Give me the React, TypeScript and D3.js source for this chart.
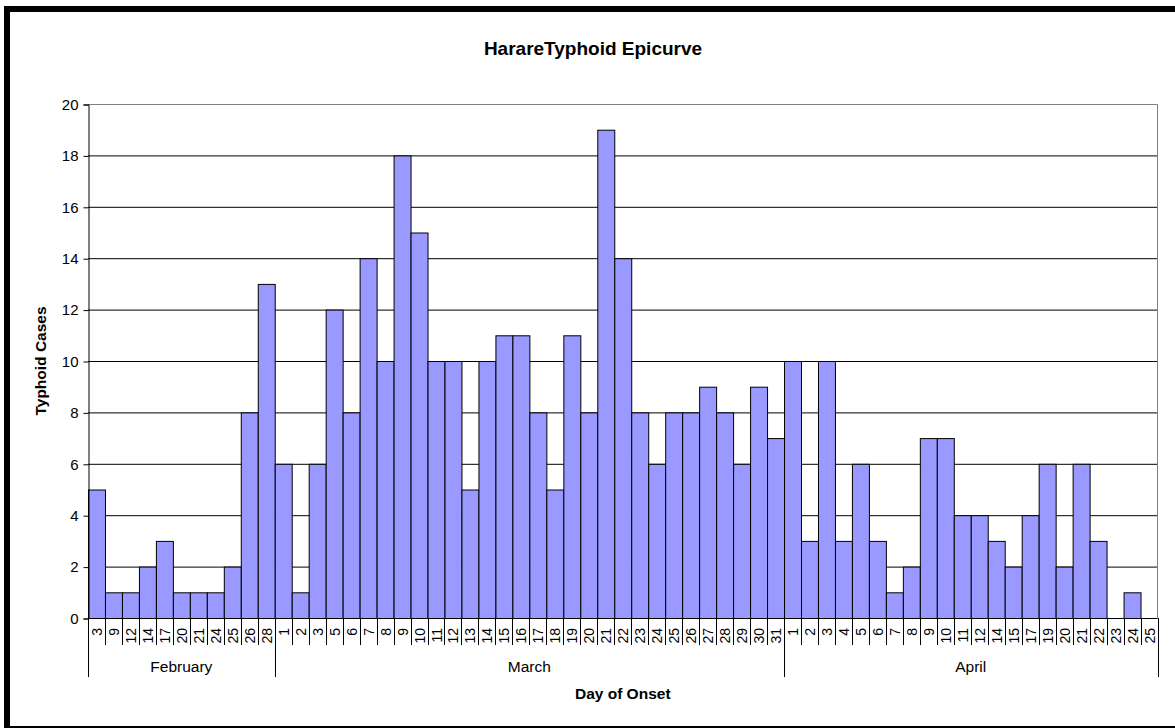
import { useEffect, useRef } from 'react';
import * as d3 from 'd3';

// day-of-onset counts
const febDays = [3, 9, 12, 14, 17, 20, 21, 24, 25, 26, 28];
const febCases = [5, 1, 1, 2, 3, 1, 1, 1, 2, 8, 13];
const marDays = [1, 2, 3, 5, 6, 7, 8, 9, 10, 11, 12, 13, 14, 15, 16, 17, 18, 19, 20, 21, 22, 23, 24, 25, 26, 27, 28, 29, 30, 31];
const marCases = [6, 1, 6, 12, 8, 14, 10, 18, 15, 10, 10, 5, 10, 11, 11, 8, 5, 11, 8, 19, 14, 8, 6, 8, 8, 9, 8, 6, 9, 7];
const aprDays = [1, 2, 3, 4, 5, 6, 7, 8, 9, 10, 11, 12, 14, 15, 17, 19, 20, 21, 22, 23, 24, 25];
const aprCases = [10, 3, 10, 3, 6, 3, 1, 2, 7, 7, 4, 4, 3, 2, 4, 6, 2, 6, 3, 0, 1, 0];
const months = ['February', 'March', 'April'];
const yTicks = [0, 2, 4, 6, 8, 10, 12, 14, 16, 18, 20];

interface Row {
    key: string;
    month: string;
    day: number;
    cases: number;
}

const rows: Row[] = [
    ...febDays.map((d, i) => ({ key: `Feb-${d}`, month: months[0], day: d, cases: febCases[i] })),
    ...marDays.map((d, i) => ({ key: `Mar-${d}`, month: months[1], day: d, cases: marCases[i] })),
    ...aprDays.map((d, i) => ({ key: `Apr-${d}`, month: months[2], day: d, cases: aprCases[i] })),
];

const FONT = '"Liberation Sans", Arial, sans-serif';

const App: React.FC = () => {
    const ref = useRef<SVGSVGElement | null>(null);

    useEffect(() => {
        const width = 1175;
        const height = 728;
        const plot = { left: 88, right: 1157.5, top: 104, bottom: 618 };

        const svg = d3.select(ref.current)
            .attr('width', width)
            .attr('height', height);
        svg.selectAll('*').remove();

        svg.append('rect')
            .attr('width', width).attr('height', height)
            .attr('fill', '#fff');

        // outer frame (right edge is clipped off)
        svg.append('rect')
            .attr('x', 7).attr('y', 9)
            .attr('width', 1200).attr('height', 720)
            .attr('fill', 'none')
            .attr('stroke', '#000')
            .attr('stroke-width', 6);

        const x = d3.scaleBand<string>()
            .domain(rows.map(r => r.key))
            .range([plot.left, plot.right])
            .padding(0);
        const y = d3.scaleLinear().domain([0, 20]).range([plot.bottom, plot.top]);

        // gridlines
        svg.append('g')
            .selectAll('line')
            .data(yTicks.filter(t => t > 0 && t < 20))
            .join('line')
            .attr('x1', plot.left).attr('x2', plot.right)
            .attr('y1', d => y(d) + 0.5).attr('y2', d => y(d) + 0.5)
            .attr('stroke', '#000')
            .attr('stroke-width', 1);

        // plot border (top / right)
        svg.append('path')
            .attr('d', `M${plot.left},${y(20) + 0.5}H${plot.right}V${plot.bottom}`)
            .attr('fill', 'none')
            .attr('stroke', '#808080')
            .attr('stroke-width', 1);

        // bars
        svg.append('g')
            .selectAll('rect')
            .data(rows.filter(r => r.cases > 0))
            .join('rect')
            .attr('x', d => (x(d.key) as number) + 0.5)
            .attr('y', d => y(d.cases) + 0.5)
            .attr('width', x.bandwidth())
            .attr('height', d => y(0) - y(d.cases))
            .attr('fill', '#9999ff')
            .attr('stroke', '#000')
            .attr('stroke-width', 1);

        // y axis
        const yAxis = d3.axisLeft(y).tickValues(yTicks).tickSize(5).tickPadding(5);
        const yg = svg.append('g')
            .attr('transform', `translate(${plot.left + 0.5},0.5)`)
            .call(yAxis);
        yg.select('.domain').attr('stroke', '#000');
        yg.selectAll('.tick line').attr('stroke', '#000');
        yg.selectAll('.tick text')
            .attr('font-family', FONT)
            .attr('font-size', 15)
            .attr('fill', '#000');

        // x axis baseline
        svg.append('line')
            .attr('x1', plot.left).attr('x2', plot.right)
            .attr('y1', plot.bottom + 0.5).attr('y2', plot.bottom + 0.5)
            .attr('stroke', '#000');

        // day separators
        const bounds = rows.map(r => x(r.key) as number).concat([plot.right]);
        const monthStarts = new Set<number>();
        months.forEach(m => {
            const first = rows.findIndex(r => r.month === m);
            monthStarts.add(first);
        });
        monthStarts.add(rows.length);

        svg.append('g')
            .selectAll('line')
            .data(bounds.map((b, i) => ({ b, i })))
            .join('line')
            .attr('x1', d => Math.round(d.b) + 0.5).attr('x2', d => Math.round(d.b) + 0.5)
            .attr('y1', plot.bottom)
            .attr('y2', d => (monthStarts.has(d.i) ? 677 : 645))
            .attr('stroke', '#000')
            .attr('stroke-width', 1);

        // day labels
        svg.append('g')
            .selectAll('text')
            .data(rows)
            .join('text')
            .attr('transform', d => `translate(${(x(d.key) as number) + x.bandwidth() / 2 + 5.5},628) rotate(-90)`)
            .attr('text-anchor', 'end')
            .attr('font-family', FONT)
            .attr('font-size', 14)
            .text(d => d.day);

        // month labels
        svg.append('g')
            .selectAll('text')
            .data(months)
            .join('text')
            .attr('x', m => {
                const sub = rows.filter(r => r.month === m);
                const a = x(sub[0].key) as number;
                const b = (x(sub[sub.length - 1].key) as number) + x.bandwidth();
                return (a + b) / 2;
            })
            .attr('y', 672)
            .attr('text-anchor', 'middle')
            .attr('font-family', FONT)
            .attr('font-size', 15.5)
            .text(m => m);

        // titles
        svg.append('text')
            .attr('x', 593).attr('y', 55)
            .attr('text-anchor', 'middle')
            .attr('font-family', FONT)
            .attr('font-size', 19)
            .attr('font-weight', 'bold')
            .text('HarareTyphoid Epicurve');

        svg.append('text')
            .attr('x', (plot.left + plot.right) / 2).attr('y', 699)
            .attr('text-anchor', 'middle')
            .attr('font-family', FONT)
            .attr('font-size', 15.5)
            .attr('font-weight', 'bold')
            .text('Day of Onset');

        svg.append('text')
            .attr('transform', `translate(46,${(plot.top + plot.bottom) / 2}) rotate(-90)`)
            .attr('text-anchor', 'middle')
            .attr('font-family', FONT)
            .attr('font-size', 15.5)
            .attr('font-weight', 'bold')
            .text('Typhoid Cases');
    }, []);

    return (
        <svg ref={ref} style={{ position: 'absolute', left: 0, top: 0, display: 'block' }}></svg>
    );
};

export default App;
